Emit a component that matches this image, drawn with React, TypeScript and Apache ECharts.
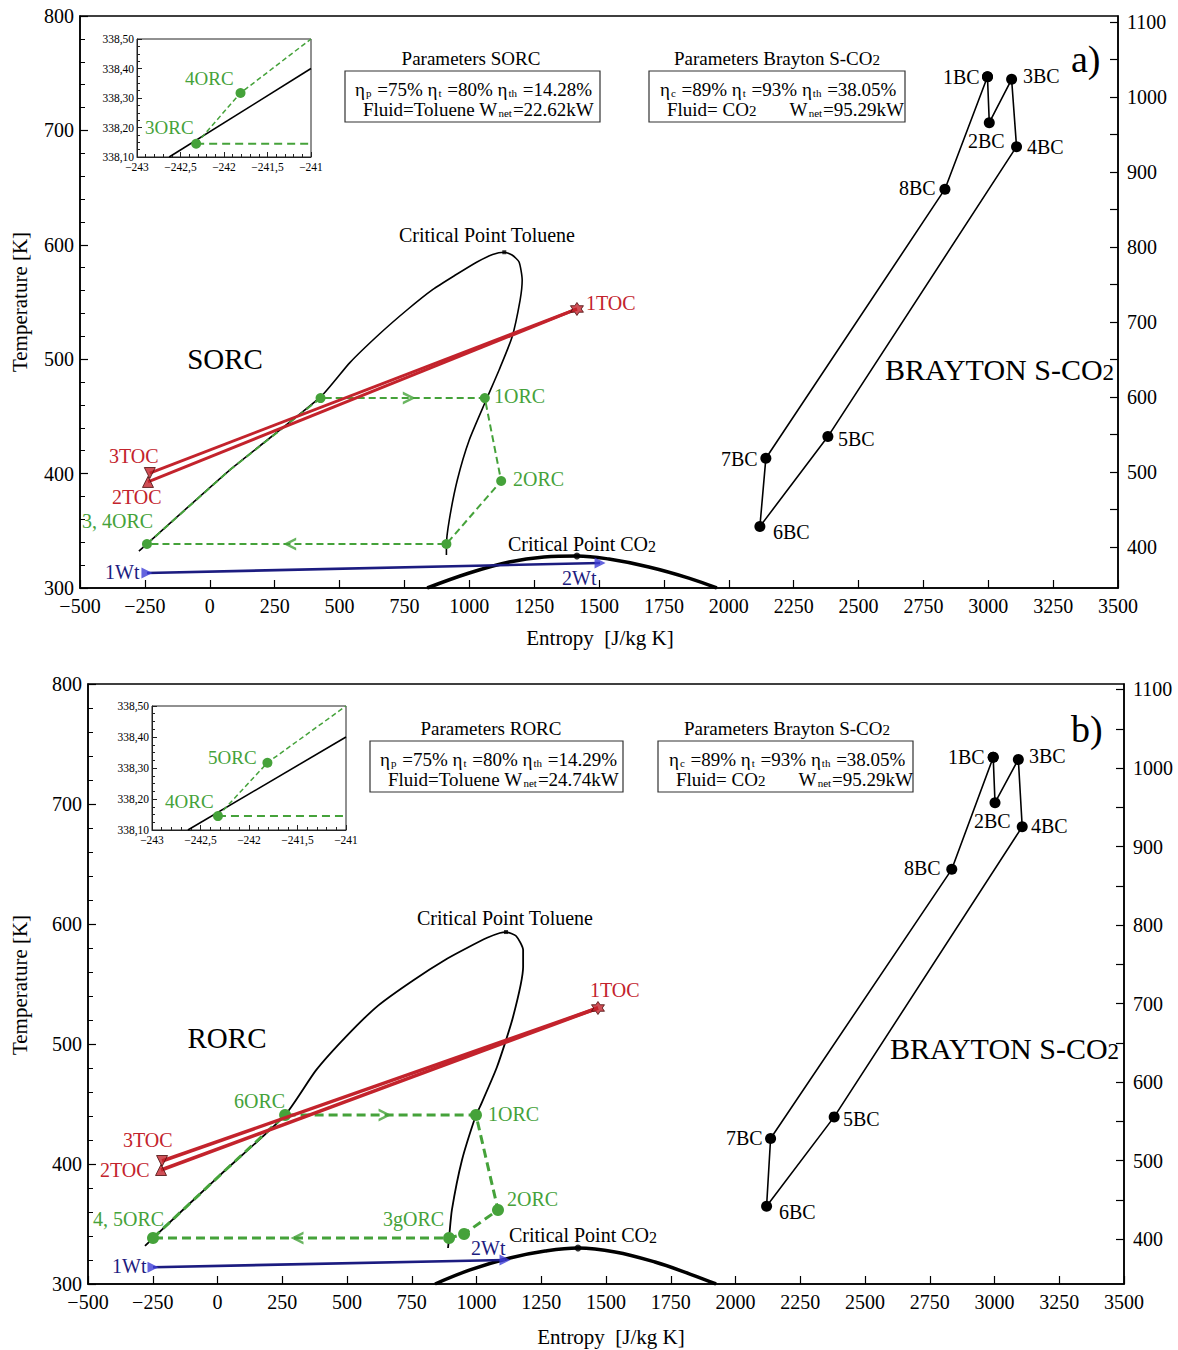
import React, { useEffect, useRef } from "react";
import * as echarts from "echarts";

type P = [number, number];

const FONT = '"Liberation Serif", "Times New Roman", Times, serif';
const GREEN = "#45a23a";
const RED = "#c3232c";
const NAVY = "#1c1c80";
const BLUE_MK = "#3d3dd6";

// ---------- tick values ----------
const rightTickLabels = [400, 500, 600, 700, 800, 900, 1000, 1100];
const rightTickMarks = [400, 450, 500, 550, 600, 650, 700, 750, 800, 850, 900, 950, 1000, 1050, 1100];

// ---------- inset (zoom near 3/4ORC) ----------
const insetBlack: P[] = [[-242.63, 338.1], [-241, 338.4]];
const insetGreen: P[] = [[-242.32, 338.145], [-241.81, 338.317], [-241.0, 338.5]];
const insetGreenMarks = [1, 1, 0];
const insetFlat: P[] = [[-242.32, 338.145], [-241, 338.145]];

// ---------- panel a) SORC ----------
const domeA: P[] = [
  [-273, 332.3], [-242, 338.5], [77, 403.1], [427, 467], [540, 497], [654, 522], [760, 543], [860, 561],
  [950, 574], [1030, 585], [1090, 591.5], [1135, 593.5], [1165, 591.1], [1192, 585], [1204, 569.2], [1196, 551.7],
  [1165, 519.4], [1115, 490.6], [1065, 464.3], [1000, 429.4], [954, 394.4], [923, 359.4], [912, 337.6], [912, 328.8],
];
const critTolA: P = [1135, 593.5];
const co2A: P[] = [[838, 300], [1000, 313.1], [1154, 322.7], [1288, 327.1], [1415, 328], [1538, 325.3], [1692, 318.4], [1846, 308.7], [1954, 300]];
const critCo2A: P = [1415, 328];
const orcA: P[] = [[-242, 338.5], [77, 403.1], [427, 466], [1060, 466], [1123, 393.5], [912, 338.5], [-242, 338.5]];
const orcMarksA = [1, 0, 1, 1, 1, 1, 0];
const arrowRightA: P = [769, 466];
const arrowLeftA: P = [308, 338.5];
const toc1A: P = [1415, 543.9];
const toc2A: P = [-238, 392.7];
const toc3A: P = [-231, 400.5];
const wtA: P[] = [[-242, 313.1], [1504, 321.9]];
const braytonA: P[] = [[2997, 1027], [3004, 965.7], [3090, 1023.6], [3109, 933.7], [2382, 547], [2120, 427], [2143, 518], [2833, 877], [2997, 1027]];

// ---------- panel b) RORC ----------
const domeB: P[] = [
  [-280, 331.7], [-249, 338.3], [10, 390.8], [261, 440.8], [380, 478], [500, 507], [620, 532], [755, 553],
  [886, 571], [963, 580], [1041, 588.5], [1090, 592.5], [1114, 593.3], [1153, 590], [1180, 578.3], [1180, 564.2],
  [1141, 522.5], [1079, 480.8], [1013, 447.5], [998, 440.8], [944, 403.3], [905, 361.7], [894, 338.3], [890, 330],
];
const critTolB: P = [1114, 593.3];
const co2B: P[] = [[840, 300], [975, 311.7], [1129, 321.7], [1265, 327.5], [1392, 330], [1535, 326.7], [1689, 318.3], [1824, 308.3], [1925, 300]];
const critCo2B: P = [1392, 330];
const orcB: P[] = [[-249, 338.3], [10, 390.8], [261, 440.8], [998, 440.8], [1083, 361.7], [952, 341.7], [894, 338.3], [-249, 338.3]];
const orcMarksB = [1, 0, 1, 1, 1, 1, 1, 0];
const arrowRightB: P = [647, 440.8];
const arrowLeftB: P = [307, 338.3];
const toc1B: P = [1469, 530];
const toc2B: P = [-218, 395];
const toc3B: P = [-214, 402.5];
const wtB: P[] = [[-249, 314], [1110, 320]];
const braytonB: P[] = [[2995, 1013.6], [3002, 955.8], [3092, 1011], [3107, 925.2], [2381, 555.8], [2120, 442], [2135.5, 528.3], [2835, 871], [2995, 1013.6]];

const CHEVRON = "path://M0,0 L12,6 L0,12 L0,9.4 L7.0,6 L0,2.6 Z";
const STAR6 = "path://M5,0 L6.44,2.5 L9.33,2.5 L7.89,5 L9.33,7.5 L6.44,7.5 L5,10 L3.56,7.5 L0.67,7.5 L2.11,5 L0.67,2.5 L3.56,2.5 Z";

const minus = (v: number) => (v < 0 ? "\u2212" + Math.abs(v) : String(v));

function mainX(gridIndex: number) {
  return {
    type: "value", gridIndex, min: -500, max: 3500, interval: 250,
    axisLine: { show: true, onZero: false, lineStyle: { color: "#000", width: 1.5 } },
    axisTick: { show: true, inside: true, length: 8, lineStyle: { color: "#000", width: 1.2 } },
    axisLabel: { color: "#000", fontFamily: FONT, fontSize: 20, margin: 8, formatter: (v: number) => minus(v) },
    splitLine: { show: false },
  };
}
function leftY(gridIndex: number) {
  return {
    type: "value", gridIndex, min: 300, max: 800, interval: 100, position: "left",
    axisLine: { show: true, onZero: false, lineStyle: { color: "#000", width: 1.5 } },
    axisTick: { show: true, inside: true, length: 8, lineStyle: { color: "#000", width: 1.2 } },
    minorTick: { show: true, splitNumber: 5, length: 5, lineStyle: { color: "#000", width: 1 } },
    axisLabel: { color: "#000", fontFamily: FONT, fontSize: 20, margin: 6, formatter: (v: number) => String(v) },
    splitLine: { show: false }, minorSplitLine: { show: false },
  };
}
function rightY(gridIndex: number, min: number, max: number) {
  return {
    type: "value", gridIndex, min, max, position: "right",
    axisLine: { show: true, onZero: false, lineStyle: { color: "#000", width: 1.5 } },
    axisTick: { show: true, inside: true, length: 8, customValues: rightTickMarks, lineStyle: { color: "#000", width: 1.2 } },
    axisLabel: { color: "#000", fontFamily: FONT, fontSize: 20, margin: 9, customValues: rightTickLabels, formatter: (v: number) => String(Math.round(v)) },
    splitLine: { show: false },
  };
}
function insetX(gridIndex: number) {
  return {
    type: "value", gridIndex, min: -243, max: -241, interval: 0.5,
    axisLine: { show: true, onZero: false, lineStyle: { color: "#222", width: 1 } },
    axisTick: { show: true, inside: true, length: 5, lineStyle: { color: "#222" } },
    minorTick: { show: true, splitNumber: 5, length: 3, lineStyle: { color: "#222" } },
    axisLabel: { color: "#000", fontFamily: FONT, fontSize: 11.5, margin: 4, formatter: (v: number) => minus(v).replace(".", ",") },
    splitLine: { show: false },
  };
}
function insetY(gridIndex: number) {
  return {
    type: "value", gridIndex, min: 338.1, max: 338.5, interval: 0.1,
    axisLine: { show: true, onZero: false, lineStyle: { color: "#222", width: 1 } },
    axisTick: { show: true, inside: true, length: 5, lineStyle: { color: "#222" } },
    minorTick: { show: true, splitNumber: 4, length: 3, lineStyle: { color: "#222" } },
    axisLabel: { color: "#000", fontFamily: FONT, fontSize: 11.5, margin: 3, formatter: (v: number) => v.toFixed(2).replace(".", ",") },
    splitLine: { show: false },
  };
}

function panelSeries(
  xi: number, yl: number, yr: number, xin: number, yin: number,
  d: {
    dome: P[]; critTol: P; co2: P[]; critCo2: P; orc: P[]; marks: number[]; arR: P; arL: P;
    t1: P; t2: P; t3: P; wt: P[]; bray: P[];
  },
  big: boolean
) {
  const gw = big ? 3 : 2;
  const dash = big ? [9, 5] : [7, 4];
  const ms = big ? 12 : 10;
  return [
    { type: "line", xAxisIndex: xi, yAxisIndex: yl, data: d.dome, showSymbol: false, smooth: 0.2, lineStyle: { color: "#000", width: big ? 1.8 : 1.6 }, z: 2 },
    { type: "scatter", xAxisIndex: xi, yAxisIndex: yl, data: [d.critTol], symbol: "rect", symbolSize: 4, itemStyle: { color: "#000" }, z: 2 },
    { type: "line", xAxisIndex: xi, yAxisIndex: yl, data: d.co2, showSymbol: false, smooth: 0.4, clip: true, lineStyle: { color: "#000", width: 3.5 }, z: 2 },
    { type: "scatter", xAxisIndex: xi, yAxisIndex: yl, data: [d.critCo2], symbol: "circle", symbolSize: 7, itemStyle: { color: "#000" }, z: 3 },
    {
      type: "line", xAxisIndex: xi, yAxisIndex: yl, showAllSymbol: true,
      data: d.orc.map((p, i) => ({ value: p, symbol: d.marks[i] ? "circle" : "none" })),
      symbolSize: ms, itemStyle: { color: GREEN }, lineStyle: { color: GREEN, width: gw, type: dash }, z: 3,
    },
    { type: "scatter", xAxisIndex: xi, yAxisIndex: yl, data: [d.arR], symbol: CHEVRON, symbolSize: [13, 13], itemStyle: { color: GREEN }, z: 4 },
    { type: "scatter", xAxisIndex: xi, yAxisIndex: yl, data: [d.arL], symbol: CHEVRON, symbolRotate: 180, symbolSize: [13, 13], itemStyle: { color: GREEN }, z: 4 },
    { type: "line", xAxisIndex: xi, yAxisIndex: yl, data: [d.t1, d.t3], showSymbol: false, lineStyle: { color: RED, width: big ? 3.5 : 3 }, z: 5 },
    { type: "line", xAxisIndex: xi, yAxisIndex: yl, data: [d.t1, d.t2], showSymbol: false, lineStyle: { color: RED, width: big ? 3.5 : 3 }, z: 5 },
    { type: "scatter", xAxisIndex: xi, yAxisIndex: yl, data: [d.t1], symbol: STAR6, symbolSize: 13, itemStyle: { color: RED, borderColor: "#4a0c0c", borderWidth: 1 }, z: 6 },
    { type: "scatter", xAxisIndex: xi, yAxisIndex: yl, data: [d.t3], symbol: "triangle", symbolRotate: 180, symbolSize: 11, itemStyle: { color: RED, borderColor: "#4a0c0c", borderWidth: 1 }, z: 6 },
    { type: "scatter", xAxisIndex: xi, yAxisIndex: yl, data: [d.t2], symbol: "triangle", symbolSize: 11, itemStyle: { color: RED, borderColor: "#4a0c0c", borderWidth: 1 }, z: 6 },
    { type: "line", xAxisIndex: xi, yAxisIndex: yl, data: d.wt, showSymbol: false, lineStyle: { color: NAVY, width: 2.6 }, z: 5 },
    { type: "scatter", xAxisIndex: xi, yAxisIndex: yl, data: d.wt, symbol: "triangle", symbolRotate: -90, symbolSize: 11, itemStyle: { color: BLUE_MK }, z: 6 },
    {
      type: "line", xAxisIndex: xi, yAxisIndex: yr, data: d.bray, showAllSymbol: true, symbol: "circle", symbolSize: 11,
      itemStyle: { color: "#000" }, lineStyle: { color: "#000", width: 1.6 }, z: 3,
    },
    // inset
    { type: "line", xAxisIndex: xin, yAxisIndex: yin, data: insetBlack, showSymbol: false, lineStyle: { color: "#000", width: 1.6 }, z: 10 },
    {
      type: "line", xAxisIndex: xin, yAxisIndex: yin, showAllSymbol: true,
      data: insetGreen.map((p, i) => ({ value: p, symbol: insetGreenMarks[i] ? "circle" : "none" })),
      symbolSize: 10, itemStyle: { color: GREEN }, lineStyle: { color: GREEN, width: 1.5, type: [5, 3] }, z: 11,
    },
    { type: "line", xAxisIndex: xin, yAxisIndex: yin, data: insetFlat, showSymbol: false, lineStyle: { color: GREEN, width: 2, type: [8, 5] }, z: 10 },
  ];
}

function txt(x: number, y: number, text: string, size: number, color = "#000", align = "left", extra: any = {}) {
  return {
    type: "text", x, y, silent: true, z: 100,
    style: {
      text, fill: color, fontFamily: FONT, fontSize: size,
      align, verticalAlign: "middle", textAlign: align, textVerticalAlign: "middle", ...extra,
    },
  };
}
const subRich = {
  s: { fontFamily: FONT, fontSize: 11, fill: "#000", verticalAlign: "bottom", padding: [0, 1, 0, 1] },
  m: { fontFamily: FONT, fontSize: 15, fill: "#000", verticalAlign: "bottom" },
};
const co2Rich = { m: { fontFamily: FONT, fontSize: 16, fill: "#000", verticalAlign: "bottom" } };
const bigRich = { m: { fontFamily: FONT, fontSize: 23, fill: "#000", verticalAlign: "bottom" } };

type Lab = [number, number, string, string];

function panelGraphics(o: {
  dy: number; cycName: string; cycX: number; cycY: number; paramsName: string; eff1: string; wnet1: string;
  boxL: [number, number]; boxR: [number, number]; titleL: number; titleR: number; letter: string; letterX: number;
  tolX: number; tolY: number; brayX: number; brayY: number; labels: Lab[]; yTitleY: number; xTitleX: number; xTitleY: number;
  co2LabX: number; co2LabY: number;
}) {
  const g: any[] = [];
  const boxTop = o.dy;
  g.push(txt(o.titleL, boxTop - 13, o.paramsName, 19, "#000", "center"));
  g.push(txt(o.titleR, boxTop - 13, "Parameters Brayton S-CO{m|2}", 19, "#000", "center", { rich: subRich }));
  g.push({ type: "rect", z: 99, silent: true, shape: { x: o.boxL[0], y: boxTop, width: o.boxL[1] - o.boxL[0], height: 51 }, style: { fill: "#fff", stroke: "#333", lineWidth: 1.2 } });
  g.push({ type: "rect", z: 99, silent: true, shape: { x: o.boxR[0], y: boxTop, width: o.boxR[1] - o.boxR[0], height: 51 }, style: { fill: "#fff", stroke: "#333", lineWidth: 1.2 } });
  g.push(txt(o.boxL[0] + 10, boxTop + 18, "η{s|p} =75% η{s|t} =80% η{s|th} =" + o.eff1, 19, "#000", "left", { rich: subRich }));
  g.push(txt(o.boxL[0] + 18, boxTop + 38, "Fluid=Toluene W{s|net}=" + o.wnet1, 19, "#000", "left", { rich: subRich }));
  g.push(txt(o.boxR[0] + 11, boxTop + 18, "η{s|c} =89% η{s|t} =93% η{s|th} =38.05%", 19, "#000", "left", { rich: subRich }));
  g.push(txt(o.boxR[0] + 18, boxTop + 38, "Fluid= CO{m|2}       W{s|net}=95.29kW", 19, "#000", "left", { rich: subRich }));
  g.push(txt(o.letterX, boxTop - 12, o.letter, 38));
  g.push(txt(o.tolX, o.tolY, "Critical Point Toluene", 20, "#000", "center"));
  g.push(txt(o.cycX, o.cycY, o.cycName, 29, "#000", "center"));
  g.push(txt(o.brayX, o.brayY, "BRAYTON S-CO{m|2}", 30, "#000", "left", { rich: bigRich }));
  g.push(txt(o.co2LabX, o.co2LabY, "Critical Point CO{m|2}", 20, "#000", "left", { rich: co2Rich }));
  for (const [x, y, t, c] of o.labels) g.push(txt(x, y, t, 20, c));
  g.push({ type: "text", x: 20, y: o.yTitleY, rotation: Math.PI / 2, silent: true, z: 100, style: { text: "Temperature [K]", fill: "#000", fontFamily: FONT, fontSize: 21, align: "center", verticalAlign: "middle", textAlign: "center", textVerticalAlign: "middle" } });
  g.push(txt(o.xTitleX, o.xTitleY, "Entropy  [J/kg K]", 21, "#000", "center"));
  return g;
}

function buildOption() {
  const labelsA: Lab[] = [
    [586, 303, "1TOC", RED], [109, 456, "3TOC", RED], [112, 497, "2TOC", RED],
    [82, 521, "3, 4ORC", GREEN], [494, 396, "1ORC", GREEN], [513, 479, "2ORC", GREEN],
    [105, 572, "1Wt", NAVY], [562, 578, "2Wt", NAVY],
    [943, 77, "1BC", "#000"], [968, 141, "2BC", "#000"], [1023, 76, "3BC", "#000"], [1027, 147, "4BC", "#000"],
    [899, 188, "8BC", "#000"], [838, 439, "5BC", "#000"], [721, 459, "7BC", "#000"], [773, 532, "6BC", "#000"],
  ];
  const insetLabelsA: Lab[] = [[185, 78, "4ORC", GREEN], [145, 127, "3ORC", GREEN]];
  const labelsB: Lab[] = [
    [590, 990, "1TOC", RED], [123, 1140, "3TOC", RED], [100, 1170, "2TOC", RED],
    [234, 1101, "6ORC", GREEN], [488, 1114, "1ORC", GREEN], [507, 1199, "2ORC", GREEN],
    [383, 1219, "3gORC", GREEN], [93, 1219, "4, 5ORC", GREEN],
    [112, 1266, "1Wt", NAVY], [471, 1248, "2Wt", NAVY],
    [948, 757, "1BC", "#000"], [1029, 756, "3BC", "#000"], [974, 821, "2BC", "#000"], [1031, 826, "4BC", "#000"],
    [904, 868, "8BC", "#000"], [843, 1119, "5BC", "#000"], [726, 1138, "7BC", "#000"], [779, 1212, "6BC", "#000"],
  ];
  const insetLabelsB: Lab[] = [[208, 757, "5ORC", GREEN], [165, 801, "4ORC", GREEN]];

  const graphic = [
    ...panelGraphics({
      dy: 71, cycName: "SORC", cycX: 225, cycY: 359, paramsName: "Parameters SORC", eff1: "14.28%", wnet1: "22.62kW",
      boxL: [345, 600], boxR: [649, 905], titleL: 471, titleR: 777, letter: "a)", letterX: 1071,
      tolX: 487, tolY: 235, brayX: 885, brayY: 369, labels: labelsA,
      yTitleY: 302, xTitleX: 600, xTitleY: 638, co2LabX: 508, co2LabY: 544,
    }),
    ...insetLabelsA.map(([x, y, t, c]) => txt(x, y, t, 19, c)),
    ...panelGraphics({
      dy: 741, cycName: "RORC", cycX: 227, cycY: 1038, paramsName: "Parameters RORC", eff1: "14.29%", wnet1: "24.74kW",
      boxL: [370, 623], boxR: [658, 913], titleL: 491, titleR: 787, letter: "b)", letterX: 1071,
      tolX: 505, tolY: 918, brayX: 890, brayY: 1048, labels: labelsB,
      yTitleY: 985, xTitleX: 611, xTitleY: 1337, co2LabX: 509, co2LabY: 1235,
    }),
    ...insetLabelsB.map(([x, y, t, c]) => txt(x, y, t, 19, c)),
  ];

  const series = [
    ...panelSeries(0, 0, 1, 1, 2, {
      dome: domeA, critTol: critTolA, co2: co2A, critCo2: critCo2A, orc: orcA, marks: orcMarksA,
      arR: arrowRightA, arL: arrowLeftA, t1: toc1A, t2: toc2A, t3: toc3A, wt: wtA, bray: braytonA,
    }, false),
    ...panelSeries(2, 3, 4, 3, 5, {
      dome: domeB, critTol: critTolB, co2: co2B, critCo2: critCo2B, orc: orcB, marks: orcMarksB,
      arR: arrowRightB, arL: arrowLeftB, t1: toc1B, t2: toc2B, t3: toc3B, wt: wtB, bray: braytonB,
    }, true),
  ];

  return {
    animation: false,
    backgroundColor: "#fff",
    textStyle: { fontFamily: FONT },
    grid: [
      { left: 80, top: 16, width: 1038, height: 572, show: true, borderColor: "#000", borderWidth: 1.5, backgroundColor: "rgba(0,0,0,0)" },
      { left: 137, top: 39, width: 174, height: 118, show: true, borderColor: "#222", borderWidth: 1, backgroundColor: "#fff", z: 8 },
      { left: 88, top: 684, width: 1036, height: 600, show: true, borderColor: "#000", borderWidth: 1.5, backgroundColor: "rgba(0,0,0,0)" },
      { left: 152, top: 706, width: 194, height: 124, show: true, borderColor: "#222", borderWidth: 1, backgroundColor: "#fff", z: 8 },
    ],
    xAxis: [mainX(0), { ...insetX(1), z: 9 }, mainX(2), { ...insetX(3), z: 9 }],
    yAxis: [leftY(0), rightY(0, 345, 1108), { ...insetY(1), z: 9 }, leftY(2), rightY(2, 343, 1107), { ...insetY(3), z: 9 }],
    series,
    graphic,
  };
}

export default function App() {
  const ref = useRef<HTMLDivElement>(null);
  useEffect(() => {
    document.body.style.margin = "0";
    const chart = echarts.init(ref.current!, null, { renderer: "svg" });
    chart.setOption(buildOption() as any);
    return () => chart.dispose();
  }, []);
  return <div ref={ref} style={{ width: 1178, height: 1350, background: "#fff" }} />;
}
